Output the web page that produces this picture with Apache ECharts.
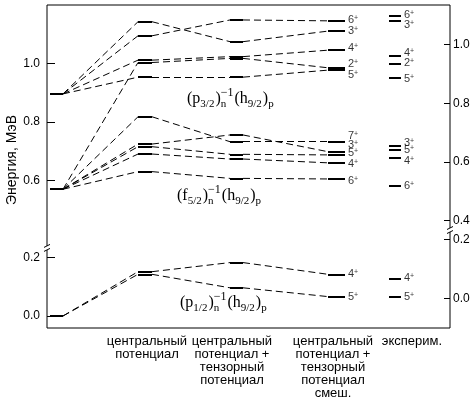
<!DOCTYPE html>
<html>
<head>
<meta charset="utf-8">
<script src="https://cdn.jsdelivr.net/npm/echarts@6/dist/echarts.min.js"></script>
<style>html,body{margin:0;padding:0;background:#fff}#chart{width:476px;height:397px}</style>
</head>
<body>
<div id="chart"></div>
<script>
// расчётные уровни, МэВ (левая шкала); один элемент = одно состояние
const spins       = ['6+','3+','4+','2+','5+','7+','3+','5+','4+','6+','4+','5+'];
const unperturbed = [0.896,0.896,0.896,0.571,0.896,0.571,0.571,0.571,0.571,0.571,0.0,0.0];
const central     = [1.094,1.142,1.011,1.003,0.953,0.818,0.725,0.716,0.691,0.631,0.151,0.142];
const tensor      = [1.148,1.074,1.023,1.017,0.953,0.733,0.756,0.690,0.674,0.608,0.182,0.096];
const mixed       = [1.145,1.110,1.045,0.985,0.977,0.733,0.699,0.688,0.661,0.606,0.142,0.066];

// эксперимент, МэВ (правая шкала)
const expSpins = ['6+','3+','4+','2+','5+','3+','5+','4+','6+','4+','5+'];
const expE     = [1.098,1.081,0.961,0.936,0.887,0.656,0.643,0.613,0.519,0.068,0.005];

const leftTicks  = [0.0, 0.2, 0.6, 0.8, 1.0];
const rightTicks = [0.0, 0.2, 0.4, 0.6, 0.8, 1.0];
const categories = [
    'центральный\nпотенциал',
    'центральный\nпотенциал +\nтензорный\nпотенциал',
    'центральный\nпотенциал +\nтензорный\nпотенциал\nсмеш.',
    'эксперим.'
];

// раскладка (ось x в пикселях)
const cols = [[50, 63], [138, 152], [230, 243], [328, 345]];
const expCol = [389, 401];
const catX = [147, 232, 333, 412];
const mixedNudge = [-1, 0, -2, -4, 5, -6, -7, -2, 1, 2, 0, 0];
const expNudge = [-1, 4, -3, 0, 1, -3, 1, 3, 0, 0, 0];

// разрыв шкалы: нижняя часть 0–0.2, верхняя от 0.4
const leftY = e => e < 0.3 ? e : e - 0.139;
const rightY = e => e < 0.3 ? e + 0.0603 : e - 0.0753;
const leftInv = d => d < 0.3 ? d : d + 0.139;
const rightInv = d => d < 0.29 ? d - 0.0603 : d + 0.0753;

const bars = [], links = [], tags = [];
spins.forEach((s, i) => {
    const v = [unperturbed[i], central[i], tensor[i], mixed[i]].map(leftY);
    cols.forEach((c, k) => {
        bars.push({coords: [[c[0], v[k]], [c[1], v[k]]]});
        if (k > 0) links.push({coords: [[cols[k - 1][1], v[k - 1]], [c[0], v[k]]]});
    });
    tags.push({name: s, value: [cols[3][1], v[3]], label: {offset: [0, mixedNudge[i]]}});
});
const expBars = expE.map(e => ({coords: [[expCol[0], rightY(e)], [expCol[1], rightY(e)]]}));
const expTags = expE.map((e, i) => ({name: expSpins[i], value: [expCol[1], rightY(e)], label: {offset: [0, expNudge[i]]}}));

const tagLabel = {
    show: true, position: 'right', distance: 3,
    formatter: p => '{a|' + p.name.replace('+', '') + '}{s|+}',
    rich: {
        a: {fontSize: 11, fontFamily: 'Liberation Sans', color: '#000', lineHeight: 11},
        s: {fontSize: 7, fontFamily: 'Liberation Sans', color: '#000', verticalAlign: 'top', lineHeight: 11}
    }
};

const font = 'Liberation Sans';
let chart = echarts.init(document.querySelector('#chart'));
chart.setOption({
    animation: false,
    grid: {left: 47, right: 26, top: 5, bottom: 69, show: true, borderColor: '#000', borderWidth: 1, outerBoundsMode: 'none'},
    xAxis: {
        type: 'value', min: 47, max: 450,
        axisLine: {show: false}, axisTick: {show: false}, splitLine: {show: false},
        axisLabel: {
            customValues: catX, margin: 7, color: '#000', fontFamily: font, fontSize: 13, lineHeight: 13,
            formatter: v => categories[catX.indexOf(v)]
        }
    },
    yAxis: [{
        type: 'value', min: -0.041, max: 1.06, position: 'left',
        axisLine: {show: false}, splitLine: {show: false},
        axisTick: {inside: true, length: 8, customValues: leftTicks.map(leftY), lineStyle: {color: '#000'}},
        axisLabel: {customValues: leftTicks.map(leftY), margin: 7, color: '#000', fontFamily: font, fontSize: 12,
            formatter: v => leftInv(v).toFixed(1)}
    }, {
        type: 'value', min: -0.041, max: 1.06, position: 'right',
        axisLine: {show: false}, splitLine: {show: false},
        axisTick: {inside: true, length: 6, customValues: rightTicks.map(rightY), lineStyle: {color: '#000'}},
        axisLabel: {customValues: rightTicks.map(rightY), margin: 3, color: '#000', fontFamily: font, fontSize: 12,
            formatter: v => rightInv(v).toFixed(1)}
    }],
    series: [
        {type: 'lines', coordinateSystem: 'cartesian2d', yAxisIndex: 0, silent: true, data: links,
            lineStyle: {color: '#000', width: 1, type: [7, 4], opacity: 1}},
        {type: 'lines', coordinateSystem: 'cartesian2d', yAxisIndex: 0, silent: true, data: bars,
            lineStyle: {color: '#000', width: 2, opacity: 1}},
        {type: 'lines', coordinateSystem: 'cartesian2d', yAxisIndex: 1, silent: true, data: expBars,
            lineStyle: {color: '#000', width: 2, opacity: 1}},
        {type: 'scatter', yAxisIndex: 0, symbolSize: 0, silent: true, data: tags, label: tagLabel},
        {type: 'scatter', yAxisIndex: 1, symbolSize: 0, silent: true, data: expTags, label: tagLabel}
    ]
});

// формулы конфигураций
const ctx = document.createElement('canvas').getContext('2d');
function textW(t, size) {
    ctx.font = size + 'px "Liberation Serif"';
    return ctx.measureText(t).width;
}
function formula(x0, cy, parts) {
    const els = [];
    let x = x0;
    parts.forEach(p => {
        const size = p[1] ? 11 : 16;
        const y = p[1] ? cy + 5 : cy;
        els.push({type: 'text', x: x, y: y, silent: true,
            style: {text: p[0], font: size + 'px "Liberation Serif"', fill: '#000', verticalAlign: 'middle'}});
        let w = textW(p[0], size);
        if (p[2]) {
            els.push({type: 'text', x: x, y: cy - 6, silent: true,
                style: {text: p[2], font: '12px "Liberation Serif"', fill: '#000', verticalAlign: 'middle'}});
            w = Math.max(w, textW(p[2], 12));
        }
        x += w + (p[1] ? 1 : 0);
    });
    return els;
}
const tail = [[')', 0], ['n', 1, '\u22121'], ['(h', 0], ['9/2', 1], [')', 0], ['p', 1]];

const gfx = [].concat(
    formula(187, 99, [['(p', 0], ['3/2', 1]].concat(tail)),
    formula(177, 196, [['(f', 0], ['5/2', 1]].concat(tail)),
    formula(180, 303, [['(p', 0], ['1/2', 1]].concat(tail))
);

gfx.push({type: 'text', x: 12, y: 160, rotation: Math.PI / 2, silent: true,
    style: {text: 'Энергия, МэВ', font: '14px "Liberation Sans"', fill: '#000', align: 'center', verticalAlign: 'middle'}});

// значки разрыва оси
function breakMark(x, y) {
    return [
        {type: 'rect', shape: {x: x - 2, y: y - 2, width: 4, height: 4}, style: {fill: '#fff'}, silent: true},
        {type: 'line', shape: {x1: x - 3, y1: y - 0.5, x2: x + 3, y2: y - 3.5}, style: {stroke: '#000', lineWidth: 1}, silent: true},
        {type: 'line', shape: {x1: x - 3, y1: y + 3.5, x2: x + 3, y2: y + 0.5}, style: {stroke: '#000', lineWidth: 1}, silent: true}
    ];
}
const pL = chart.convertToPixel({xAxisIndex: 0, yAxisIndex: 0}, [47, 0.232]);
const pR = chart.convertToPixel({xAxisIndex: 0, yAxisIndex: 1}, [450, 0.293]);
chart.setOption({graphic: gfx.concat(breakMark(pL[0], pL[1]), breakMark(pR[0], pR[1]))});
</script>
</body>
</html>
